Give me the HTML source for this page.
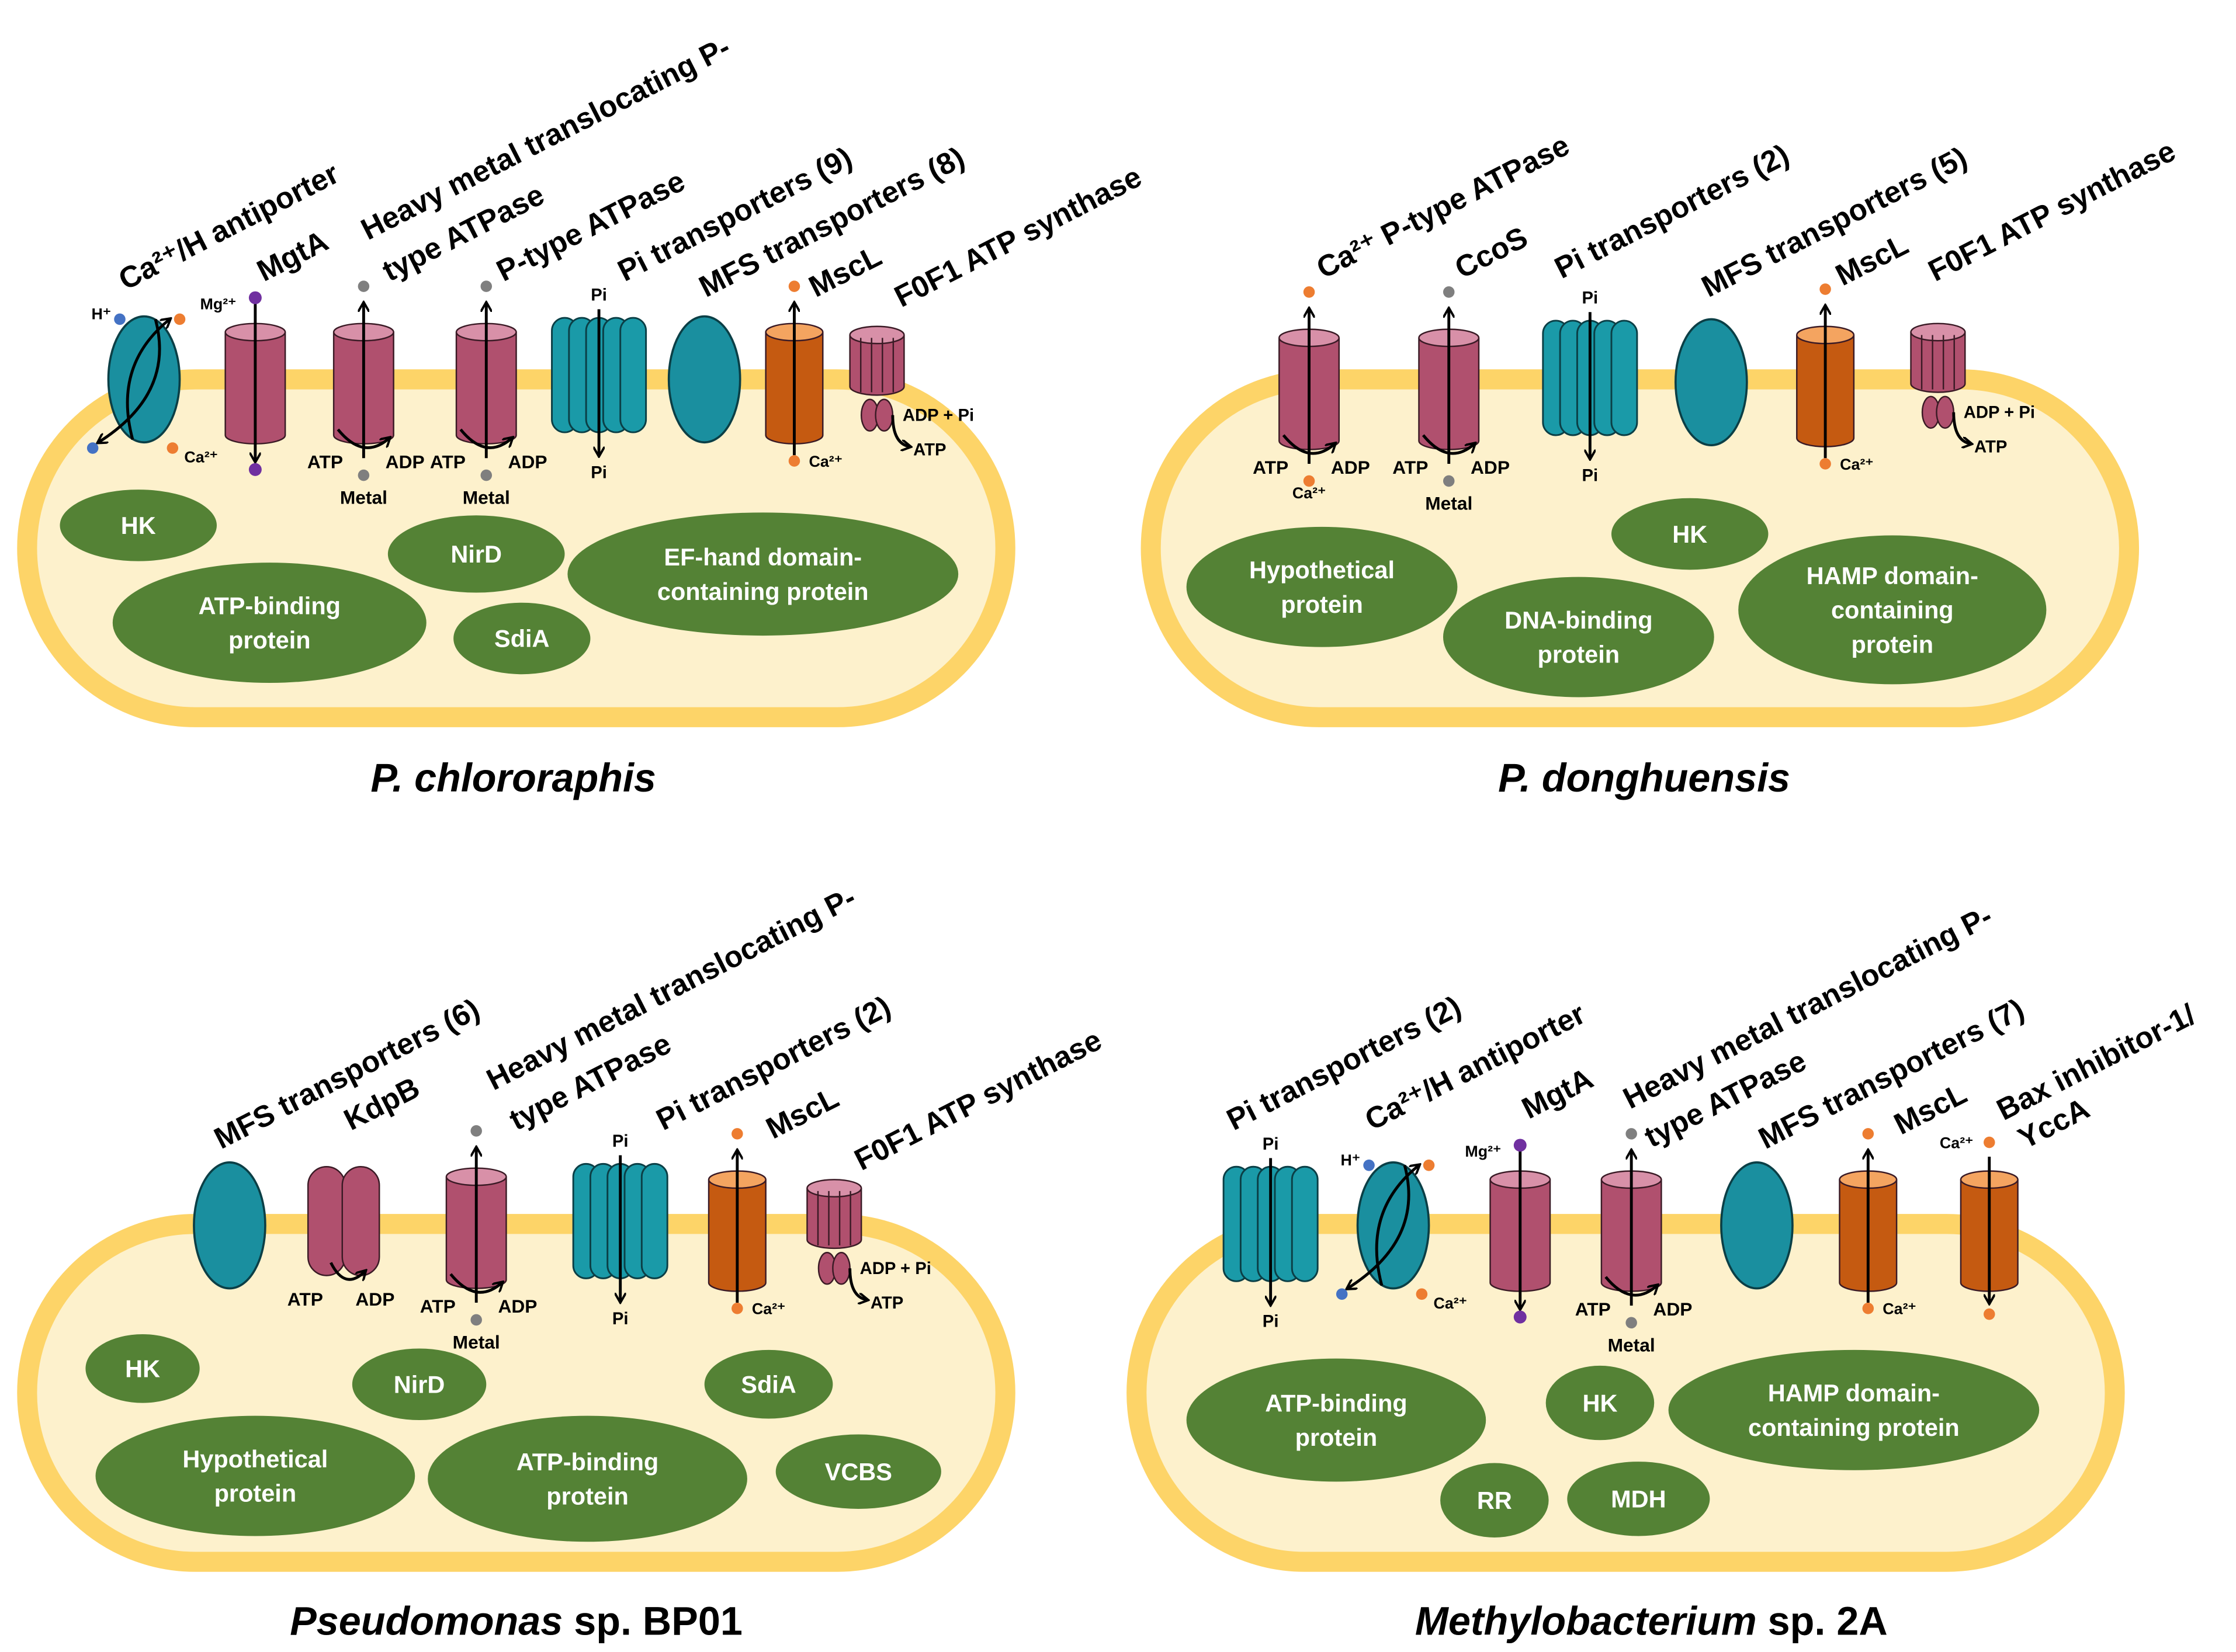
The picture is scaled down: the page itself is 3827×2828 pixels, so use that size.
<!DOCTYPE html>
<html><head><meta charset="utf-8"><style>
html,body{margin:0;padding:0;background:#fff;}
svg{display:block;}
text{font-family:"Liberation Sans",sans-serif;}
</style></head><body>
<svg id="s" width="3827" height="2828" viewBox="0 0 1568 1154" preserveAspectRatio="none" xmlns="http://www.w3.org/2000/svg">
<defs>
<marker id="ah" markerWidth="8" markerHeight="8" refX="6" refY="4" orient="auto" markerUnits="userSpaceOnUse"><path d="M0,0 L7,4 L0,8" fill="none" stroke="#000" stroke-width="1.6"/></marker>
</defs>
<g id="g"></g>
</svg>
<script>
var out=[];
function P(s){out.push(s);}
function cell(x,y){P('<rect x="'+(x+7)+'" y="'+(y+7)+'" width="686" height="236" rx="118" fill="#fdf1cc" stroke="#fdd468" stroke-width="14"/>');}
function green(cx,cy,rx,ry,lines){P('<ellipse cx="'+cx+'" cy="'+cy+'" rx="'+rx+'" ry="'+ry+'" fill="#548235"/>');var n=lines.length;for(var i=0;i<n;i++){P('<text x="'+cx+'" y="'+(cy+6+(i-(n-1)/2)*24)+'" text-anchor="middle" font-size="17" font-weight="bold" fill="#fff">'+lines[i]+'</text>');}}
function lbl(x,y,t){P('<text x="'+x+'" y="'+y+'" font-size="21" font-weight="bold" transform="rotate(-27 '+x+' '+y+')">'+t+'</text>');}
function small(x,y,t,s){P('<text x="'+x+'" y="'+y+'" font-size="'+(s||12)+'" font-weight="bold" text-anchor="middle">'+t+'</text>');}
function dot(x,y,c){P('<circle cx="'+x+'" cy="'+y+'" r="4" fill="'+c+'"/>');}
function arr(x1,y1,x2,y2){P('<line x1="'+x1+'" y1="'+y1+'" x2="'+x2+'" y2="'+y2+'" stroke="#000" stroke-width="2" marker-end="url(#ah)"/>');}
function cyl(x,y,w,h,fill,top){P('<path d="M'+x+','+(y+6)+' L'+x+','+(y+h)+' A'+(w/2)+',6 0 0 0 '+(x+w)+','+(y+h)+' L'+(x+w)+','+(y+6)+'" fill="'+fill+'" stroke="#3a1a25" stroke-width="1"/>');P('<ellipse cx="'+(x+w/2)+'" cy="'+(y+6)+'" rx="'+(w/2)+'" ry="6" fill="'+top+'" stroke="#3a1a25" stroke-width="1"/>');}
function pump(cx,y,up,dotc,lab){cyl(cx-21,y,42,78,'#b0506e','#d890a8');
 if(up){arr(cx,y+94,cx,y-14);dot(cx,y-26,dotc);dot(cx,y+106,dotc);}else{arr(cx,y-14,cx,y+96);dot(cx,y-18,dotc);dot(cx,y+102,dotc);}
 P('<path d="M'+(cx-18)+','+(y+74)+' Q'+cx+','+(y+96)+' '+(cx+18)+','+(y+80)+'" fill="none" stroke="#000" stroke-width="2" marker-end="url(#ah)"/>');
 small(cx-27,y+101,'ATP',13);small(cx+29,y+101,'ADP',13);if(lab)small(cx,y+126,lab,13);}
function mg(cx,y){cyl(cx-21,y,42,78,'#b0506e','#d890a8');arr(cx,y-14,cx,y+96);P('<circle cx="'+cx+'" cy="'+(y-18)+'" r="4.5" fill="#7030a0"/>');P('<circle cx="'+cx+'" cy="'+(y+102)+'" r="4.5" fill="#7030a0"/>');small(cx-26,y-10,'Mg²⁺',11);}
function teal(cx,cy){P('<ellipse cx="'+cx+'" cy="'+cy+'" rx="25" ry="44" fill="#1a8f9f" stroke="#0b3f46" stroke-width="1.5"/>');}
function anti(cx,cy){teal(cx,cy);P('<path d="M'+(cx-8)+','+(cy+42)+' Q'+(cx-22)+','+(cy-10)+' '+(cx+18)+','+(cy-42)+'" fill="none" stroke="#000" stroke-width="2" marker-end="url(#ah)"/>');P('<path d="M'+(cx+8)+','+(cy-42)+' Q'+(cx+22)+','+(cy+10)+' '+(cx-32)+','+(cy+44)+'" fill="none" stroke="#000" stroke-width="2" marker-end="url(#ah)"/>');dot(cx-17,cy-42,'#4472c4');dot(cx+25,cy-42,'#ed7d31');dot(cx-36,cy+48,'#4472c4');dot(cx+20,cy+48,'#ed7d31');small(cx-30,cy-42,'H⁺',11);small(cx+40,cy+58,'Ca²⁺',11);}
function barrel(x,y){var xs=[0,12,24,36,48];for(var i=0;i<5;i++){P('<rect x="'+(x+xs[i])+'" y="'+y+'" width="18" height="80" rx="9" fill="#1a9aa8" stroke="#0b3f46" stroke-width="1.2"/>');}arr(x+33,y-6,x+33,y+96);small(x+33,y-12,'Pi',12);small(x+33,y+112,'Pi',12);}
function mscl(cx,y,up){cyl(cx-20,y,40,78,'#c55a11','#f4a460');if(up){arr(cx,y+92,cx,y-14);dot(cx,y-26,'#ed7d31');dot(cx,y+96,'#ed7d31');}else{arr(cx,y-14,cx,y+92);dot(cx,y-26,'#ed7d31');dot(cx,y+96,'#ed7d31');}small(cx+22,y+100,'Ca²⁺',11);}
function fofo(x,y){cyl(x,y,38,42,'#b0506e','#d890a8');for(var i=1;i<5;i++)P('<line x1="'+(x+i*7.6)+'" y1="'+(y+8)+'" x2="'+(x+i*7.6)+'" y2="'+(y+46)+'" stroke="#3a1a25" stroke-width="1"/>');P('<ellipse cx="'+(x+14)+'" cy="'+(y+62)+'" rx="6" ry="11" fill="#b0506e" stroke="#3a1a25"/><ellipse cx="'+(x+24)+'" cy="'+(y+62)+'" rx="6" ry="11" fill="#b0506e" stroke="#3a1a25"/>');P('<path d="M'+(x+30)+','+(y+62)+' Q'+(x+30)+','+(y+82)+' '+(x+42)+','+(y+84)+'" fill="none" stroke="#000" stroke-width="2" marker-end="url(#ah)"/>');small(x+62,y+66,'ADP + Pi',12);small(x+56,y+90,'ATP',12);}
function title(x,y,h){P('<text x="'+x+'" y="'+y+'" font-size="28" font-weight="bold" text-anchor="middle">'+h+'</text>');}
// Panel 1
cell(12,258);
anti(101,265);mg(179,226);pump(255,226,true,'#7f7f7f','Metal');pump(341,226,true,'#7f7f7f','Metal');barrel(387,222);teal(494,265);mscl(557,226,true);fofo(596,228);
green(97,367,55,25,['HK']);green(189,435,110,42,['ATP-binding','protein']);green(334,387,62,27,['NirD']);green(366,446,48,25,['SdiA']);green(535,401,137,43,['EF-hand domain-','containing protein']);
lbl(88,203,'Ca²⁺/H antiporter');lbl(185,197,'MgtA');lbl(258,168,'Heavy metal translocating P-');lbl(273,197,'type ATPase');lbl(353,197,'P-type ATPase');lbl(438,197,'Pi transporters  (9)');lbl(495,208,'MFS transporters (8)');lbl(572,208,'MscL');lbl(632,215,'F0F1 ATP synthase');
title(360,553,'<tspan font-style="italic">P. chlororaphis</tspan>');
// Panel 2
cell(800,258);
pump(918,230,true,'#ed7d31',null);small(918,348,'Ca²⁺',11);pump(1016,230,true,'#7f7f7f','Metal');barrel(1082,224);teal(1200,267);mscl(1280,228,true);fofo(1340,226);
green(927,410,95,42,['Hypothetical','protein']);green(1185,373,55,25,['HK']);green(1107,445,95,42,['DNA-binding','protein']);green(1327,426,108,52,['HAMP domain-','containing','protein']);
lbl(928,195,'Ca²⁺ P-type ATPase');lbl(1025,195,'CcoS');lbl(1095,195,'Pi transporters  (2)');lbl(1198,208,'MFS transporters (5)');lbl(1292,200,'MscL');lbl(1357,197,'F0F1 ATP synthase');
title(1153,553,'<tspan font-style="italic">P. donghuensis</tspan>');
// Panel 3
cell(12,848);
teal(161,856);
P('<rect x="216" y="815" width="26" height="76" rx="13" fill="#b0506e" stroke="#3a1a25"/><rect x="240" y="815" width="26" height="76" rx="13" fill="#b0506e" stroke="#3a1a25"/>');
P('<path d="M232,882 Q242,902 256,888" fill="none" stroke="#000" stroke-width="2" marker-end="url(#ah)"/>');small(214,912,'ATP',13);small(263,912,'ADP',13);
pump(334,816,true,'#7f7f7f','Metal');barrel(402,813);mscl(517,818,true);fofo(566,824);
green(100,956,40,24,['HK']);green(294,967,47,25,['NirD']);green(539,967,45,24,['SdiA']);green(179,1031,112,42,['Hypothetical','protein']);green(412,1033,112,44,['ATP-binding','protein']);green(602,1028,58,26,['VCBS']);
lbl(155,803,'MFS transporters (6)');lbl(246,790,'KdpB');lbl(346,762,'Heavy metal translocating P-');lbl(362,790,'type ATPase');lbl(465,790,'Pi transporters  (2)');lbl(542,796,'MscL');lbl(604,818,'F0F1 ATP synthase');
title(362,1142,'<tspan font-style="italic">Pseudomonas</tspan> sp. BP01');
// Panel 4
cell(790,848);
barrel(858,815);anti(977,856);mg(1066,818);pump(1144,818,true,'#7f7f7f','Metal');teal(1232,856);mscl(1310,818,true);
cyl(1375,818,40,78,'#c55a11','#f4a460');arr(1395,808,1395,910);dot(1395,798,'#ed7d31');dot(1395,918,'#ed7d31');small(1372,802,'Ca²⁺',11);
green(937,992,105,43,['ATP-binding','protein']);green(1122,980,38,26,['HK']);green(1300,985,130,42,['HAMP domain-','containing protein']);green(1048,1048,38,26,['RR']);green(1149,1047,50,26,['MDH']);
lbl(865,790,'Pi transporters  (2)');lbl(962,790,'Ca²⁺/H antiporter');lbl(1072,782,'MgtA');lbl(1143,775,'Heavy metal translocating P-');lbl(1158,802,'type ATPase');lbl(1238,803,'MFS transporters (7)');lbl(1333,793,'MscL');lbl(1405,783,'Bax inhibitor-1/');lbl(1420,803,'YccA');
title(1158,1142,'<tspan font-style="italic">Methylobacterium</tspan> sp. 2A');
document.getElementById('g').innerHTML=out.join('');
</script>
</body></html>
